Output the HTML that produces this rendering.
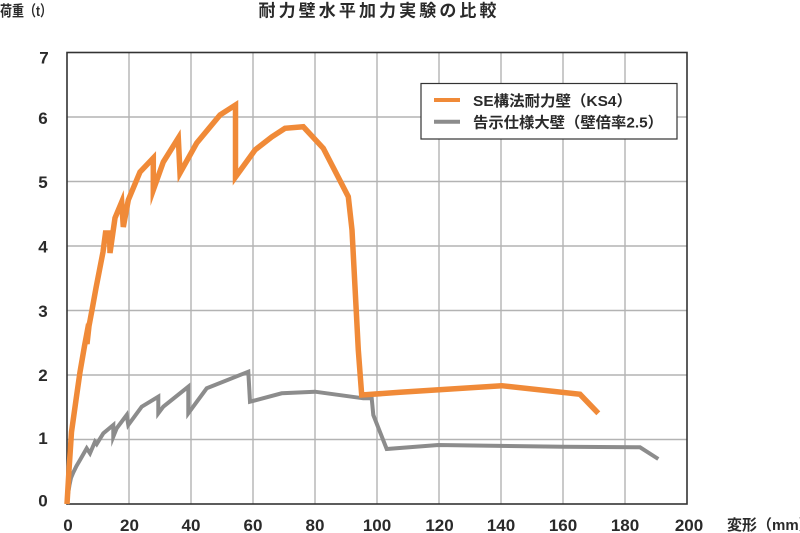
<!DOCTYPE html>
<html>
<head>
<meta charset="utf-8">
<style>
html,body{margin:0;padding:0;background:#fff;}
body{width:800px;height:533px;overflow:hidden;}
svg{display:block;}
text{font-family:"Liberation Sans","Noto Sans CJK JP",sans-serif;fill:#2a2a2a;font-weight:bold;}
</style>
</head>
<body>
<svg width="800" height="533" viewBox="0 0 800 533" xmlns="http://www.w3.org/2000/svg">
  <rect x="0" y="0" width="800" height="533" fill="#fff"/>
  <!-- grid -->
  <g stroke="#b3b3b3" stroke-width="1.4" fill="none">
    <line x1="129" y1="52.5" x2="129" y2="504"/>
    <line x1="191" y1="52.5" x2="191" y2="504"/>
    <line x1="253" y1="52.5" x2="253" y2="504"/>
    <line x1="315" y1="52.5" x2="315" y2="504"/>
    <line x1="377" y1="52.5" x2="377" y2="504"/>
    <line x1="439" y1="52.5" x2="439" y2="504"/>
    <line x1="501" y1="52.5" x2="501" y2="504"/>
    <line x1="563" y1="52.5" x2="563" y2="504"/>
    <line x1="625" y1="52.5" x2="625" y2="504"/>
    <line x1="67" y1="117" x2="687" y2="117"/>
    <line x1="67" y1="181.5" x2="687" y2="181.5"/>
    <line x1="67" y1="246" x2="687" y2="246"/>
    <line x1="67" y1="310.5" x2="687" y2="310.5"/>
    <line x1="67" y1="375" x2="687" y2="375"/>
    <line x1="67" y1="439.5" x2="687" y2="439.5"/>
  </g>
  <!-- frame -->
  <rect x="67" y="52.5" width="620" height="451.5" fill="none" stroke="#333" stroke-width="1.6"/>

  <!-- gray series -->
  <polyline fill="none" stroke="#8c8c8c" stroke-width="4" stroke-linejoin="miter" stroke-miterlimit="6"
    points="67,504 68,494 69.5,485 71,478 73.3,472.5 76.5,466 80,460 86.7,448.3 90,453.3 95,441.7 96.7,444 103.3,433.3 113.3,425 113.3,436.7 116.7,428.3 126.7,415 128.3,425 141.7,406.7 158.3,396.7 158.3,413.3 163.3,406.7 188.3,386.7 188.3,413.3 206.7,388.3 248.3,371.7 250,401.7 281.7,393.3 315,391.7 363.3,398.3 371.7,398.3 373.3,415 386.7,449 438.3,445 563.3,446.7 640,447.3 658.3,459"/>

  <!-- orange series -->
  <polyline fill="none" stroke="#f08a38" stroke-width="5.5" stroke-linejoin="miter" stroke-miterlimit="6"
    points="67,504 69,470 71.5,432 76,400 80,372 84.5,346 86,338 87,344 89,326 92,310 96,288 99.5,270 103,252 105.5,233 109.5,233 110,253 115,218 121.7,202 123.3,227 128.3,200 140,172 153.3,158 153.3,190 163.3,162 178.3,138 180,173 196.7,143 220,115 235.5,105 235.5,177 255,150 271.7,137 285,128.3 303.3,126.7 323.3,148.3 348.3,196.7 352,230 358.3,350 361.7,395 400,392.3 501.7,385.7 580,394.3 598.3,413.3"/>

  <!-- legend -->
  <rect x="421" y="83.5" width="256" height="55.5" fill="#fff" stroke="#333" stroke-width="1.2"/>
  <line x1="434" y1="100" x2="460" y2="100" stroke="#f08a38" stroke-width="4"/>
  <line x1="434" y1="121.7" x2="460" y2="121.7" stroke="#8c8c8c" stroke-width="4"/>
  <text x="473" y="106" font-size="15" textLength="159" lengthAdjust="spacingAndGlyphs">SE構法耐力壁（KS4）</text>
  <text x="473" y="127.5" font-size="15" textLength="190" lengthAdjust="spacingAndGlyphs">告示仕様大壁（壁倍率2.5）</text>

  <!-- title -->
  <text x="258.5" y="16.5" font-size="17" textLength="238" lengthAdjust="spacing">耐力壁水平加力実験の比較</text>
  <!-- y axis title -->
  <text x="0" y="16" font-size="15" textLength="52" lengthAdjust="spacingAndGlyphs">荷重（t）</text>

  <!-- y tick labels -->
  <g font-size="17" text-anchor="middle">
    <text x="44" y="63.5">7</text>
    <text x="43" y="124">6</text>
    <text x="43" y="188">5</text>
    <text x="43" y="252.5">4</text>
    <text x="43" y="317">3</text>
    <text x="43" y="381">2</text>
    <text x="43" y="444">1</text>
    <text x="43" y="506.5">0</text>
  </g>
  <!-- x tick labels -->
  <g font-size="17" text-anchor="middle">
    <text x="68" y="531">0</text>
    <text x="129.5" y="531">20</text>
    <text x="191" y="531">40</text>
    <text x="253" y="531">60</text>
    <text x="315" y="531">80</text>
    <text x="377" y="531">100</text>
    <text x="439.5" y="531">120</text>
    <text x="501" y="531">140</text>
    <text x="563" y="531">160</text>
    <text x="625" y="531">180</text>
    <text x="689" y="531">200</text>
  </g>
  <text x="727" y="530" font-size="15">変形（mm）</text>
</svg>
</body>
</html>
